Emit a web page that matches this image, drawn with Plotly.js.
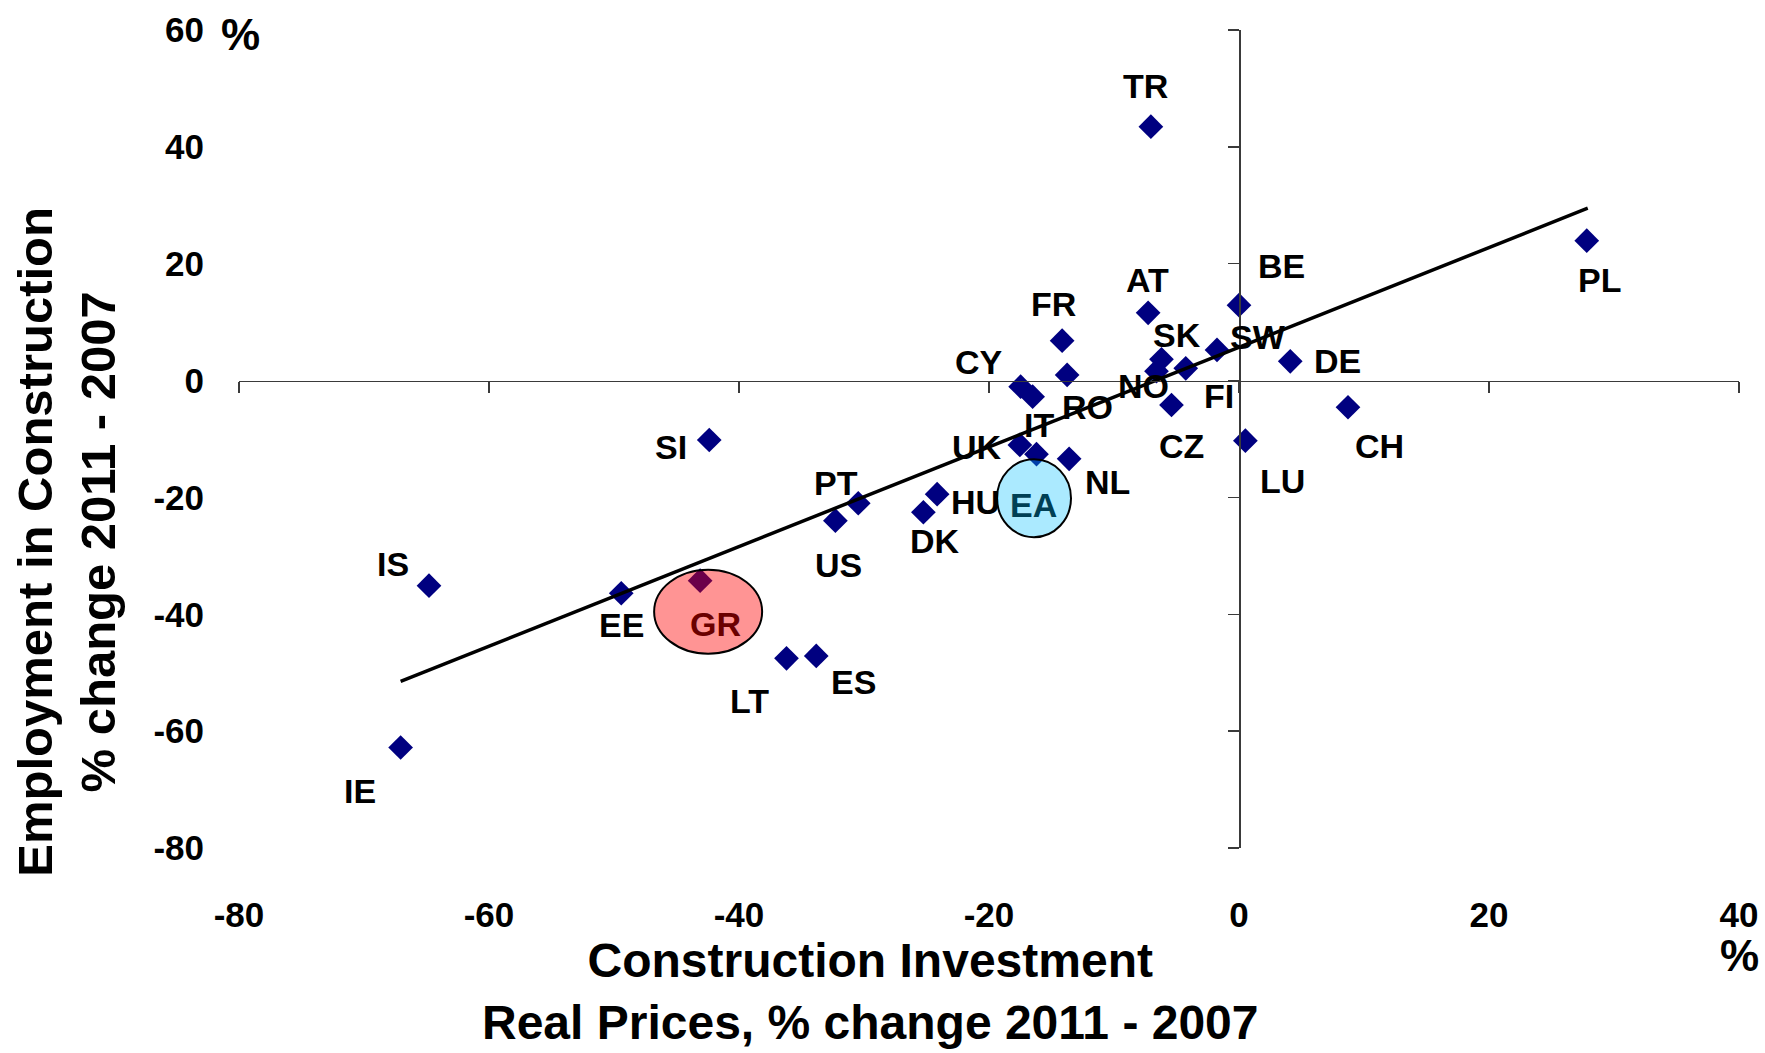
<!DOCTYPE html>
<html>
<head>
<meta charset="utf-8">
<script src="https://cdn.plot.ly/plotly-3.0.1.min.js"></script>
<style>
html,body{margin:0;padding:0;background:#ffffff;}
#chart{width:1765px;height:1053px;}
</style>
</head>
<body>
<div id="chart"></div>
<script>
// ---- data ----
const countries  = ['TR','AT','FR','BE','PL','SK','SW','DE','CH','LU','FI','NO','CZ','RO','CY','IT','UK','EA','NL','HU','DK','PT','US','SI','EE','GR','LT','ES','IS','IE'];
const investment = [-7.05,-7.27,-14.15,0.0,27.82,-6.2,-1.76,4.1,8.72,0.51,-4.26,-6.6,-5.4,-13.75,-17.47,-16.51,-17.53,-16.2,-13.59,-24.15,-25.25,-30.46,-32.29,-42.38,-49.42,-43.11,-36.2,-33.82,-64.8,-67.07];
const employment = [43.45,11.6,6.83,12.9,23.94,3.65,5.24,3.3,-4.57,-10.28,2.1,1.6,-4.18,0.96,-1.04,-2.76,-11.02,-12.6,-13.4,-19.45,-22.54,-21.0,-23.98,-10.17,-36.4,-34.25,-47.53,-47.13,-35.1,-62.8];

// linear trend line end points
const trendX = [-67.07, 27.9];
const trendY = [-51.5, 29.5];

// axes
const xRange = [-80, 40];
const yRange = [-80, 60];
const xTickVals = [-80, -60, -40, -20, 0, 20, 40];
const xTickText = ['-80', '-60', '-40', '-20', '0', '20', '40'];
const yTickVals = [-80, -60, -40, -20, 0, 20, 40, 60];
const yTickText = ['-80', '-60', '-40', '-20', '0', '20', '40', '60'];

const xTitle = 'Construction Investment<br>Real Prices, % change 2011 - 2007';
const yTitle = 'Employment in Construction<br>% change 2011 - 2007';

// ---- styles / label placement (pixel offsets: dx right, dy down) ----
const FONT = 'Liberation Sans, Arial, Helvetica, sans-serif';
const labelOffsets = {
  TR:[-5,-41], AT:[-1,-33], FR:[-9,-37], BE:[42,-39], PL:[13,39], SK:[15,-24], SW:[41,-13],
  DE:[47,0], CH:[31,39], LU:[37,40], FI:[33,28], NO:[-13,15], CZ:[10,41], RO:[20,32],
  CY:[-42,-25], IT:[6,28], UK:[-43,2], EA:[-3,51], NL:[38,23], HU:[38,8], DK:[12,29],
  PT:[-22,-20], US:[3,44], SI:[-38,7], EE:[0,32], GR:[15,43], LT:[-37,43], ES:[37,26],
  IS:[-36,-22], IE:[-41,43]
};
const labelColors = { EA:'#003f54', GR:'#6b0000' };
const highlights = [
  {country:'EA', x0:-39.5, x1:34.5, y0:-83, y1:-5, fill:'rgba(0,191,255,0.33)'},
  {country:'GR', x0:-46, x1:62, y0:-73, y1:11, fill:'rgba(255,0,0,0.42)'}
];

// ---- traces ----
const pointsTrace = {
  type:'scatter', mode:'markers', x:investment, y:employment, text:countries,
  marker:{symbol:'diamond', size:19, color:'#000080', line:{width:0}},
  hoverinfo:'text+x+y', xaxis:'x', yaxis:'y'
};
const trendTrace = {
  type:'scatter', mode:'lines', x:trendX, y:trendY,
  line:{color:'#000000', width:3.5}, hoverinfo:'skip', xaxis:'x', yaxis:'y'
};
const axisTrace = { type:'scatter', mode:'markers', x:[], y:[], xaxis:'x2', yaxis:'y2', hoverinfo:'skip' };

// ---- annotations ----
const annotations = countries.map((c, i) => {
  const off = labelOffsets[c] || [0, 0];
  return {
    x: investment[i], y: employment[i], xref:'x', yref:'y',
    text: '<b>' + c + '</b>', showarrow:false,
    xanchor:'center', yanchor:'middle',
    xshift: off[0], yshift: -off[1],
    font:{family:FONT, size:34, color: labelColors[c] || '#000000'}
  };
});
annotations.push(
  {xref:'paper', yref:'paper', x:0.0007, y:0.9939, text:'<b>%</b>', showarrow:false,
   xanchor:'center', yanchor:'middle', font:{family:FONT, size:44, color:'#000'}},
  {xref:'paper', yref:'paper', x:1.0002, y:-0.131, text:'<b>%</b>', showarrow:false,
   xanchor:'center', yanchor:'middle', font:{family:FONT, size:44, color:'#000'}},
  {xref:'paper', yref:'paper', x:0.4208, y:-0.1755, text:'<b>' + xTitle.replace('<br>', '</b><br><b>') + '</b>',
   showarrow:false, xanchor:'center', yanchor:'middle', align:'center',
   font:{family:FONT, size:48, color:'#000'}},
  {xref:'paper', yref:'paper', x:-0.1149, y:0.374, text:'<b>' + yTitle.replace('<br>', '</b><br><b>') + '</b>',
   showarrow:false, textangle:-90, xanchor:'center', yanchor:'middle', align:'center',
   font:{family:FONT, size:49, color:'#000'}}
);

// ---- highlight ellipses anchored to their points ----
const shapes = highlights.map(h => {
  const i = countries.indexOf(h.country);
  return {
    type:'circle', xref:'x', yref:'y', xsizemode:'pixel', ysizemode:'pixel',
    xanchor: investment[i], yanchor: employment[i],
    x0:h.x0, x1:h.x1, y0:h.y0, y1:h.y1,
    fillcolor:h.fill, line:{color:'#000000', width:2}, layer:'above'
  };
});

const axisLineColor = '#3a3a3a';
const tickFont = {family:FONT, size:35, color:'#000000', weight:'bold'};

const layout = {
  width:1765, height:1053,
  margin:{l:239, r:26, t:30, b:205, pad:0},
  paper_bgcolor:'#ffffff', plot_bgcolor:'rgba(0,0,0,0)',
  showlegend:false,
  font:{family:FONT, color:'#000000'},
  xaxis:{
    range:xRange, domain:[0,1], tickmode:'array', tickvals:xTickVals, ticktext:xTickText,
    showgrid:false, zeroline:false, showline:false,
    ticks:'outside', ticklen:36, tickcolor:'rgba(0,0,0,0)', tickfont:tickFont, fixedrange:true
  },
  yaxis:{
    range:yRange, domain:[0,1], tickmode:'array', tickvals:yTickVals, ticktext:yTickText,
    showgrid:false, zeroline:false, showline:false,
    ticks:'outside', ticklen:27, tickcolor:'rgba(0,0,0,0)', tickfont:tickFont, fixedrange:true
  },
  xaxis2:{
    overlaying:'x', anchor:'free', side:'bottom',
    position:(0 - yRange[0]) / (yRange[1] - yRange[0]),
    range:xRange, tickmode:'array', tickvals:xTickVals, showticklabels:false,
    showgrid:false, zeroline:false, showline:true, linecolor:axisLineColor, linewidth:1.5,
    ticks:'outside', ticklen:11, tickwidth:1.5, tickcolor:axisLineColor, fixedrange:true
  },
  yaxis2:{
    overlaying:'y', anchor:'free', side:'left',
    position:(0 - xRange[0]) / (xRange[1] - xRange[0]),
    range:yRange, tickmode:'array', tickvals:yTickVals, showticklabels:false,
    showgrid:false, zeroline:false, showline:true, linecolor:axisLineColor, linewidth:1.5,
    ticks:'outside', ticklen:11, tickwidth:1.5, tickcolor:axisLineColor, fixedrange:true
  },
  annotations:annotations,
  shapes:shapes
};

Plotly.newPlot('chart', [axisTrace, pointsTrace, trendTrace], layout, {displayModeBar:false, staticPlot:true});
</script>
</body>
</html>
